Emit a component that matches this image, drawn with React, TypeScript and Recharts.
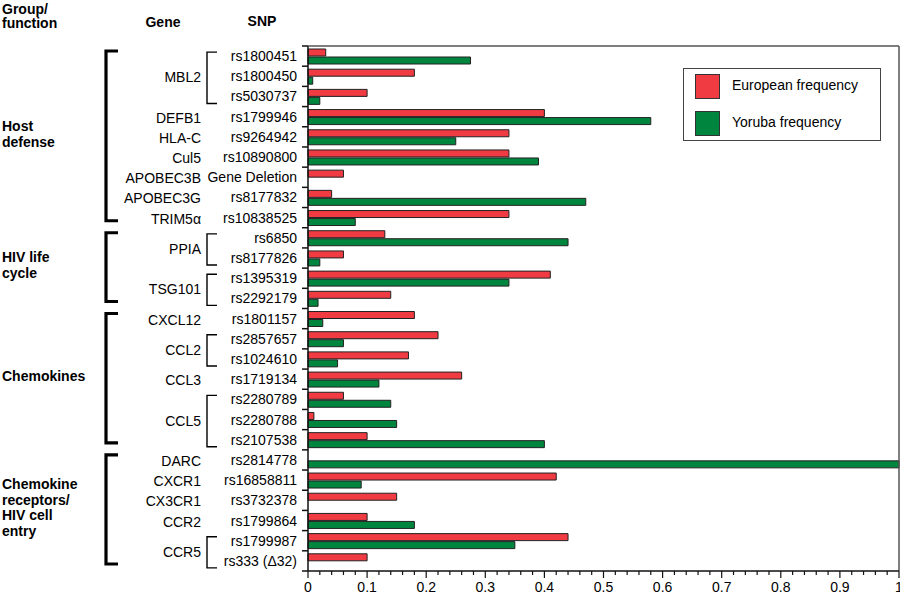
import React from "react";
import {
  BarChart,
  Bar,
  XAxis,
  YAxis,
  Legend,
  ReferenceLine,
} from "recharts";

const snps = [
  "rs1800451", "rs1800450", "rs5030737", "rs1799946", "rs9264942", "rs10890800",
  "Gene Deletion", "rs8177832", "rs10838525", "rs6850", "rs8177826", "rs1395319",
  "rs2292179", "rs1801157", "rs2857657", "rs1024610", "rs1719134", "rs2280789",
  "rs2280788", "rs2107538", "rs2814778", "rs16858811", "rs3732378", "rs1799864",
  "rs1799987", "rs333 (\u039432)",
];

const genes = [
  "MBL2", "MBL2", "MBL2", "DEFB1", "HLA-C", "Cul5", "APOBEC3B", "APOBEC3G", "TRIM5\u03b1",
  "PPIA", "PPIA", "TSG101", "TSG101",
  "CXCL12", "CCL2", "CCL2", "CCL3", "CCL5", "CCL5", "CCL5",
  "DARC", "CXCR1", "CX3CR1", "CCR2", "CCR5", "CCR5",
];

const groups = [
  "Host\ndefense", "Host\ndefense", "Host\ndefense", "Host\ndefense", "Host\ndefense",
  "Host\ndefense", "Host\ndefense", "Host\ndefense", "Host\ndefense",
  "HIV life\ncycle", "HIV life\ncycle", "HIV life\ncycle", "HIV life\ncycle",
  "Chemokines", "Chemokines", "Chemokines", "Chemokines", "Chemokines", "Chemokines", "Chemokines",
  "Chemokine\nreceptors/\nHIV cell\nentry", "Chemokine\nreceptors/\nHIV cell\nentry",
  "Chemokine\nreceptors/\nHIV cell\nentry", "Chemokine\nreceptors/\nHIV cell\nentry",
  "Chemokine\nreceptors/\nHIV cell\nentry", "Chemokine\nreceptors/\nHIV cell\nentry",
];

const european = [
  0.03, 0.18, 0.1, 0.4, 0.34, 0.34, 0.06, 0.04, 0.34, 0.13, 0.06, 0.41, 0.14,
  0.18, 0.22, 0.17, 0.26, 0.06, 0.01, 0.1, 0, 0.42, 0.15, 0.1, 0.44, 0.1,
];

const yoruba = [
  0.275, 0.008, 0.02, 0.58, 0.25, 0.39, 0, 0.47, 0.08, 0.44, 0.02, 0.34, 0.017,
  0.025, 0.06, 0.05, 0.12, 0.14, 0.15, 0.4, 1.0, 0.09, 0, 0.18, 0.35, 0,
];

const majorTicks = [0, 0.1, 0.2, 0.3, 0.4, 0.5, 0.6, 0.7, 0.8, 0.9, 1];
const majorLabels = ["0", "0.1", "0.2", "0.3", "0.4", "0.5", "0.6", "0.7", "0.8", "0.9", "1"];
const MINOR_PER_MAJOR = 5;

const W = 900;
const H = 594;
const MARGIN = { top: 46, right: 1, left: 0, bottom: 0 };
const Y_AXIS_W = 308;
const X_AXIS_H = 23;
const PLOT_W = W - MARGIN.left - MARGIN.right - Y_AXIS_W;
const PLOT_H = H - MARGIN.top - MARGIN.bottom - X_AXIS_H;
const ROW_H = PLOT_H / snps.length;

const FONT = "'Liberation Sans', Arial, Helvetica, sans-serif";
const RED = "#F03B43";
const GREEN = "#00853F";
const FRAME = "#555";

const data = snps.map((snp, i) => ({
  snp,
  eur: european[i],
  yor: yoruba[i],
}));

const allTicks: number[] = [];
majorTicks.forEach((t, i) => {
  allTicks.push(t);
  if (i < majorTicks.length - 1) {
    const step = (majorTicks[i + 1] - t) / MINOR_PER_MAJOR;
    for (let k = 1; k < MINOR_PER_MAJOR; k++) allTicks.push(+(t + step * k).toFixed(4));
  }
});

function runLength(arr: string[], i: number) {
  let n = 1;
  while (i + n < arr.length && arr[i + n] === arr[i]) n++;
  return n;
}

const XTick = (props: any) => {
  const { x, y, payload } = props;
  const idx = majorTicks.findIndex((t) => Math.abs(t - payload.value) < 1e-6);
  const major = idx >= 0;
  return (
    <g>
      <line x1={x} x2={x} y1={y} y2={y + (major ? 7 : 4)} stroke="#111" strokeWidth={1.2} />
      {major && (
        <text x={x} y={y + 21} textAnchor="middle" fontSize={14} fontFamily={FONT} fill="#000">
          {majorLabels[idx]}
        </text>
      )}
    </g>
  );
};

const YTick = (props: any) => {
  const { x, y, payload } = props;
  const i = snps.indexOf(payload.value);
  const els: React.ReactNode[] = [];

  // top edge of the plot frame, drawn from the first row's band
  if (i === 0) {
    els.push(
      <rect key="top" x={x} y={y - ROW_H / 2 - 0.75} width={PLOT_W} height={1.5} fill={FRAME} />
    );
  }

  // tick marks at row boundaries
  els.push(<line key="t" x1={x - 6} x2={x} y1={y - ROW_H / 2} y2={y - ROW_H / 2} stroke="#111" strokeWidth={1.5} />);
  if (i === snps.length - 1) {
    els.push(<line key="tb" x1={x - 6} x2={x} y1={y + ROW_H / 2} y2={y + ROW_H / 2} stroke="#111" strokeWidth={1.5} />);
  }

  // SNP label
  els.push(
    <text key="s" x={x - 11} y={y + 5} textAnchor="end" fontSize={14} fontFamily={FONT} fill="#000">
      {payload.value}
    </text>
  );

  // gene label and bracket
  if (i === 0 || genes[i] !== genes[i - 1]) {
    const n = runLength(genes, i);
    els.push(
      <text key="g" x={x - 107} y={y + ((n - 1) / 2) * ROW_H + 6} textAnchor="end" fontSize={14} fontFamily={FONT} fill="#000">
        {genes[i]}
      </text>
    );
    if (n > 1) {
      const top = y - 4;
      const bot = y + (n - 1) * ROW_H + 7;
      els.push(
        <path
          key="gb"
          d={`M${x - 91},${top} H${x - 101} V${bot} H${x - 91}`}
          fill="none"
          stroke="#000"
          strokeWidth={1.4}
        />
      );
    }
  }

  // group label and bracket
  if (i === 0 || groups[i] !== groups[i - 1]) {
    const n = runLength(groups, i);
    const spanTop = y - ROW_H / 2;
    const spanBot = spanTop + n * ROW_H;
    els.push(
      <path
        key="grb"
        d={`M${x - 190},${spanTop + 5} H${x - 202} V${spanBot - 7} H${x - 190}`}
        fill="none"
        stroke="#000"
        strokeWidth={3.2}
      />
    );
    const lines = groups[i].split("\n");
    const mid = (spanTop + spanBot) / 2 - 3;
    const first = mid - ((lines.length - 1) / 2) * 15.5 + 5;
    els.push(
      <text key="gl" x={2} y={first} fontSize={14} fontWeight="bold" fontFamily={FONT} fill="#000">
        {lines.map((l, k) => (
          <tspan key={k} x={2} dy={k === 0 ? 0 : 15.5}>
            {l}
          </tspan>
        ))}
      </text>
    );
  }

  // column headers
  if (i === 0) {
    els.push(
      <g key="h" fontSize={14} fontWeight="bold" fontFamily={FONT} fill="#000">
        <text x={2} y={13.5}>Group/</text>
        <text x={2} y={28}>function</text>
        <text x={163} y={27} textAnchor="middle">Gene</text>
        <text x={262} y={26} textAnchor="middle">SNP</text>
      </g>
    );
  }

  return <g>{els}</g>;
};

const LegendBox = ({ payload }: any) => (
  <div
    style={{
      position: "relative",
      width: 198,
      height: 73,
      boxSizing: "border-box",
      border: "1.5px solid #444",
      background: "#fff",
      fontFamily: FONT,
      fontSize: 14,
    }}
  >
    {(payload || []).map((p: any, k: number) => (
      <div key={k} style={{ position: "absolute", left: 11, top: 5 + k * 36.5, height: 25, display: "flex", alignItems: "center" }}>
        <span
          style={{
            display: "inline-block",
            width: 25,
            height: 25,
            boxSizing: "border-box",
            background: p.color,
            border: "1px solid #333",
          }}
        />
        <span style={{ marginLeft: 12, color: "#000", marginTop: -3 }}>{p.value}</span>
      </div>
    ))}
  </div>
);

export default function App() {
  return (
    <div style={{ position: "absolute", left: 0, top: 0, width: W, height: H, background: "#fff" }}>
      <BarChart
        width={W}
        height={H}
        data={data}
        layout="vertical"
        margin={MARGIN}
        barSize={7}
        barGap={1}
      >
        <XAxis
          type="number"
          domain={[0, 1]}
          ticks={allTicks}
          interval={0}
          height={X_AXIS_H}
          tickSize={0}
          tickMargin={0}
          tickLine={false}
          axisLine={{ stroke: "#111", strokeWidth: 1.5 }}
          tick={<XTick />}
        />
        <YAxis
          type="category"
          dataKey="snp"
          width={Y_AXIS_W}
          interval={0}
          tickSize={0}
          tickMargin={0}
          tickLine={false}
          axisLine={{ stroke: "#111", strokeWidth: 1.5 }}
          tick={<YTick />}
        />
        <ReferenceLine x={1} stroke={FRAME} strokeWidth={1.5} />
        <Legend
          layout="horizontal"
          verticalAlign="middle"
          align="center"
          content={<LegendBox />}
          wrapperStyle={{ left: 683, top: 68, width: 198, height: 73 }}
        />
        <Bar
          dataKey="eur"
          name="European frequency"
          fill={RED}
          stroke="#222"
          strokeWidth={1}
          isAnimationActive={false}
        />
        <Bar
          dataKey="yor"
          name="Yoruba frequency"
          fill={GREEN}
          stroke="#222"
          strokeWidth={1}
          isAnimationActive={false}
        />
      </BarChart>
    </div>
  );
}
